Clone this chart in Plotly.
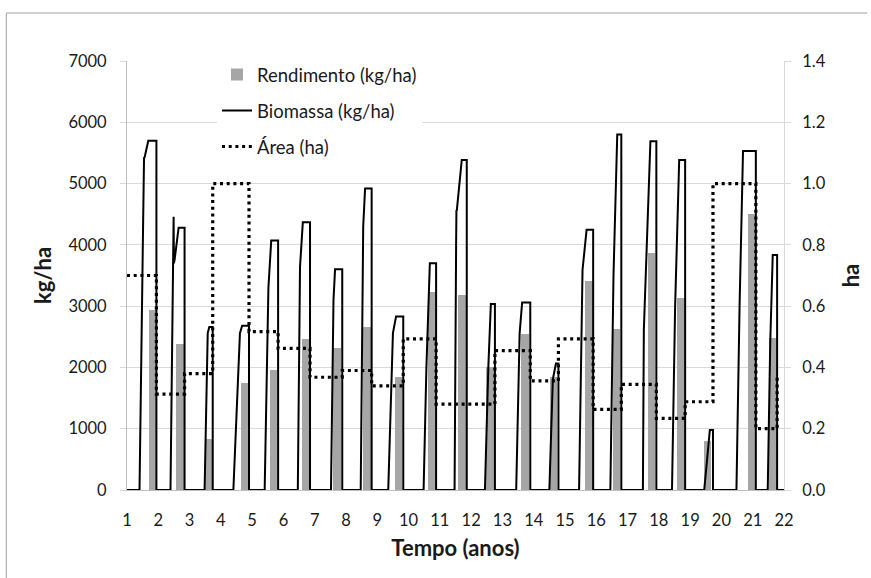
import plotly.graph_objects as go

# ---------------- data ----------------
years = list(range(1, 23))
tick_labels = [str(y) for y in years]

# yield bars (kg/ha): centre position (years) and value
bar_x = [1.815, 2.69, 3.615, 4.755, 5.68, 6.71, 7.715, 8.675, 9.685, 10.755, 11.71,
         12.595, 13.725, 14.625, 15.76, 16.64, 17.77, 18.70, 19.56, 20.975, 21.65]
rendimento = [2930, 2380, 830, 1750, 1960, 2465, 2320, 2655, 1850, 3235, 3190,
              2010, 2540, 1850, 3410, 2625, 3870, 3140, 805, 4500, 2475]

# biomass seasons: sowing time, rise points (time, value), harvest time
sow = [1.40, 2.39, 3.48, 4.40, 5.40, 6.46, 7.52, 8.47, 9.35, 10.48, 11.47,
       12.44, 13.44, 14.50, 15.45, 16.45, 17.49, 18.42, 19.45, 20.48, 21.48]
rise_t = [[1.53, 1.545, 1.55, 1.56, 1.68],
          [2.49, 2.50, 2.51, 2.52, 2.65],
          [3.58, 3.63],
          [4.61, 4.68],
          [5.52, 5.61],
          [6.53, 6.62],
          [7.60, 7.65],
          [8.55, 8.61],
          [9.50, 9.60],
          [10.57, 10.68],
          [11.52, 11.53, 11.535, 11.54, 11.70],
          [12.55, 12.60, 12.63],
          [13.55, 13.63],
          [14.61, 14.71],
          [15.56, 15.69],
          [16.55, 16.67],
          [17.52, 17.73],
          [18.52, 18.65],
          [19.58, 19.63],
          [20.58, 20.69],
          [21.56, 21.64]]
rise_v = [[4900, 5430, 4900, 5420, 5700],
          [4460, 3700, 4400, 3750, 4280],
          [2560, 2660],
          [2560, 2680],
          [3300, 4070],
          [3640, 4370],
          [3100, 3600],
          [4300, 4920],
          [2560, 2830],
          [2000, 3700],
          [4030, 4570, 4050, 4550, 5385],
          [2010, 2880, 3035],
          [2560, 3060],
          [1800, 2065],
          [3590, 4245],
          [3500, 5800],
          [2610, 5690],
          [3000, 5385],
          [816, 980],
          [3000, 5530],
          [2400, 3835]]
harvest = [1.94, 2.84, 3.74, 4.90, 5.83, 6.85, 7.88, 8.82, 9.83, 10.88, 11.86,
           12.76, 13.89, 14.79, 15.90, 16.80, 17.92, 18.84, 19.73, 21.10, 21.78]

# area (ha): initial value, then value after each harvest
area_start = 0.70
area_after = [0.313, 0.38, 1.0, 0.517, 0.462, 0.368, 0.39, 0.34, 0.493, 0.28, 0.28,
              0.455, 0.356, 0.493, 0.263, 0.345, 0.234, 0.288, 1.0, 0.2, 0.368]

x_start, x_end = 1, 22

# ---------------- build traces ----------------
bx, by = [x_start], [0]
for s, rt, rv, h in zip(sow, rise_t, rise_v, harvest):
    bx += [s] + rt + [h, h]
    by += [0] + rv + [rv[-1], 0]
bx.append(x_end)
by.append(0)

ax = [x_start] + harvest
ay = [area_start] + area_after

fig = go.Figure()
fig.add_trace(go.Bar(
    x=bar_x, y=rendimento, width=0.24, name="Rendimento (kg/ha)",
    marker=dict(color="#a6a6a6", line=dict(width=0)),
    legendgroup="a", yaxis="y"))
fig.add_trace(go.Scatter(
    x=bx, y=by, mode="lines", name="Biomassa (kg/ha)",
    line=dict(color="black", width=2), legendgroup="b", yaxis="y"))
fig.add_trace(go.Scatter(
    x=ax, y=ay, mode="lines", name="Área (ha)", line_shape="hv",
    line=dict(color="black", width=3.2, dash="3px,3.7px"), legendgroup="c", yaxis="y2"))

font_family = "Lato, 'Liberation Sans', sans-serif"
txt = "#1a1a1a"
fig.update_layout(
    width=871, height=578,
    margin=dict(l=127, r=80, t=61, b=88),
    paper_bgcolor="white", plot_bgcolor="white",
    font=dict(family=font_family, color=txt, size=16),
    bargap=0,
    showlegend=True,
    legend=dict(x=0.137, y=1.012, xanchor="left", yanchor="top",
                bgcolor="white", font=dict(size=18.5, color=txt),
                tracegroupgap=9, traceorder="grouped"),
    xaxis=dict(range=[x_start, x_end], tickmode="array", tickvals=years,
               ticktext=tick_labels, showgrid=False, zeroline=False,
               showline=True, linecolor="#bfbfbf", linewidth=1, ticks="",
               ticklabelstandoff=15, tickfont=dict(size=16.5),
               title=dict(text="<b>Tempo (anos)</b>", font=dict(size=22, color=txt),
                          standoff=11)),
    yaxis=dict(range=[0, 7000], tickmode="linear", tick0=0, dtick=1000,
               showgrid=True, gridcolor="#d9d9d9", gridwidth=1, zeroline=False,
               showline=True, linecolor="#bfbfbf", linewidth=1,
               ticks="outside", ticklen=6, tickcolor="#d9d9d9",
               ticklabelstandoff=10, tickformat="d", tickfont=dict(size=16.5),
               title=dict(text="<b>kg/ha</b>", font=dict(size=22, color=txt),
                          standoff=10)),
    yaxis2=dict(range=[0, 1.4], tickmode="linear", tick0=0, dtick=0.2,
                overlaying="y", side="right", showgrid=False, zeroline=False,
                showline=True, linecolor="#d9d9d9", linewidth=1,
                ticks="outside", ticklen=6, tickcolor="#d9d9d9",
                ticklabelstandoff=8, tickformat=".1f", tickfont=dict(size=16.5),
                title=dict(text="<b>ha</b>", font=dict(size=22, color=txt),
                           standoff=18)),
    shapes=[
        dict(type="line", xref="paper", yref="paper",
             x0=(5 - 127) / 664, x1=(5 - 127) / 664, y0=(490 - 13) / 429, y1=(490 - 580) / 429,
             line=dict(color="#a0a0a0", width=1)),
        dict(type="line", xref="paper", yref="paper",
             x0=(5 - 127) / 664, x1=(875 - 127) / 664, y0=(490 - 13) / 429, y1=(490 - 13) / 429,
             line=dict(color="#a0a0a0", width=1)),
    ],
)

fig.write_html("out.html", config={"displayModeBar": False},
               post_script="document.body.style.margin='0px';")
